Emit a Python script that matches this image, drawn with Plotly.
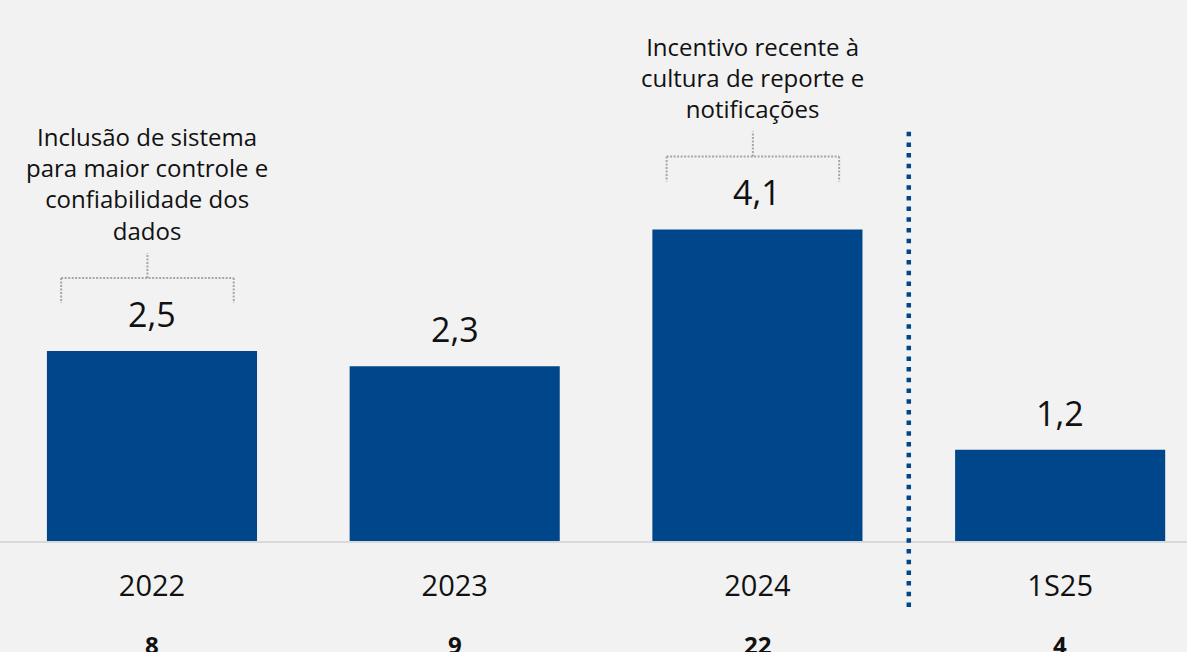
import plotly.graph_objects as go

# Data
categories = ["2022", "2023", "2024", "1S25"]
values = [2.5, 2.3, 4.1, 1.2]
value_labels = ["2,5", "2,3", "4,1", "1,2"]
counts = ["8", "9", "22", "4"]

notes = {
    0: ["Inclusão de sistema", "para maior controle e", "confiabilidade dos", "dados"],
    2: ["Incentivo recente à", "cultura de reporte e", "notificações"],
}

BAR_COLOR = "#00468B"
BG = "#F2F2F2"
TEXT = "#111111"
BRACKET = "#A6A6A6"
FONT = "Open Sans"

PLOT_H = 541  # pixel height of the plotting area

fig = go.Figure(
    go.Bar(
        x=list(range(len(categories))),
        y=values,
        width=0.694,
        marker=dict(color=BAR_COLOR, line=dict(width=0)),
        hoverinfo="skip",
    )
)

annotations = []
shapes = []

# value labels above each bar
for i, (v, lab) in enumerate(zip(values, value_labels)):
    annotations.append(dict(
        x=i, y=v, xref="x", yref="y", text=lab, showarrow=False,
        yanchor="middle", yshift=37, font=dict(size=34, color=TEXT, family=FONT),
    ))

# counts under the category labels
for i, c in enumerate(counts):
    annotations.append(dict(
        x=i, y=0, xref="x", yref="paper", text=f"<b>{c}</b>", showarrow=False,
        yanchor="middle", yshift=-103, font=dict(size=24, color=TEXT, family=FONT),
    ))

# bracket notes over selected bars
for i, lines in notes.items():
    v = values[i]
    cx = i - 0.015
    half = 0.285
    annotations.append(dict(
        x=cx, y=v, xref="x", yref="y", text="<br>".join(lines), showarrow=False,
        yanchor="bottom", yshift=102, align="center",
        font=dict(size=24, color=TEXT, family=FONT),
    ))
    seg = dict(type="line", xref="x", yref="y", ysizemode="pixel", yanchor=v,
               line=dict(color=BRACKET, width=2, dash="2px,1.5px"))
    shapes.append(dict(seg, x0=cx - half, x1=cx + half, y0=73, y1=73))
    shapes.append(dict(seg, x0=cx - half, x1=cx - half, y0=73, y1=48))
    shapes.append(dict(seg, x0=cx + half, x1=cx + half, y0=73, y1=48))
    shapes.append(dict(seg, x0=cx, x1=cx, y0=73, y1=98))

# separator between full years and the half-year
shapes.append(dict(
    type="line", xref="x", yref="paper",
    x0=2.5, x1=2.5, y0=-66 / PLOT_H, y1=414 / PLOT_H,
    line=dict(color=BAR_COLOR, width=4.5, dash="4.5px,6.2px"),
))

fig.update_layout(
    width=1187, height=652,
    margin=dict(l=0, r=0, t=0, b=652 - PLOT_H),
    paper_bgcolor=BG, plot_bgcolor=BG,
    showlegend=False,
    annotations=annotations,
    shapes=shapes,
    xaxis=dict(
        range=[-0.502, 3.419],
        tickmode="array", tickvals=list(range(len(categories))), ticktext=categories,
        showline=True, linecolor="#D9D9D9", linewidth=2,
        showgrid=False, zeroline=False, ticks="",
        tickfont=dict(size=29, color=TEXT, family=FONT),
        ticklabelstandoff=18,
    ),
    yaxis=dict(range=[0, PLOT_H / 76], visible=False, showgrid=False, zeroline=False),
)

fig.write_html("out.html")
